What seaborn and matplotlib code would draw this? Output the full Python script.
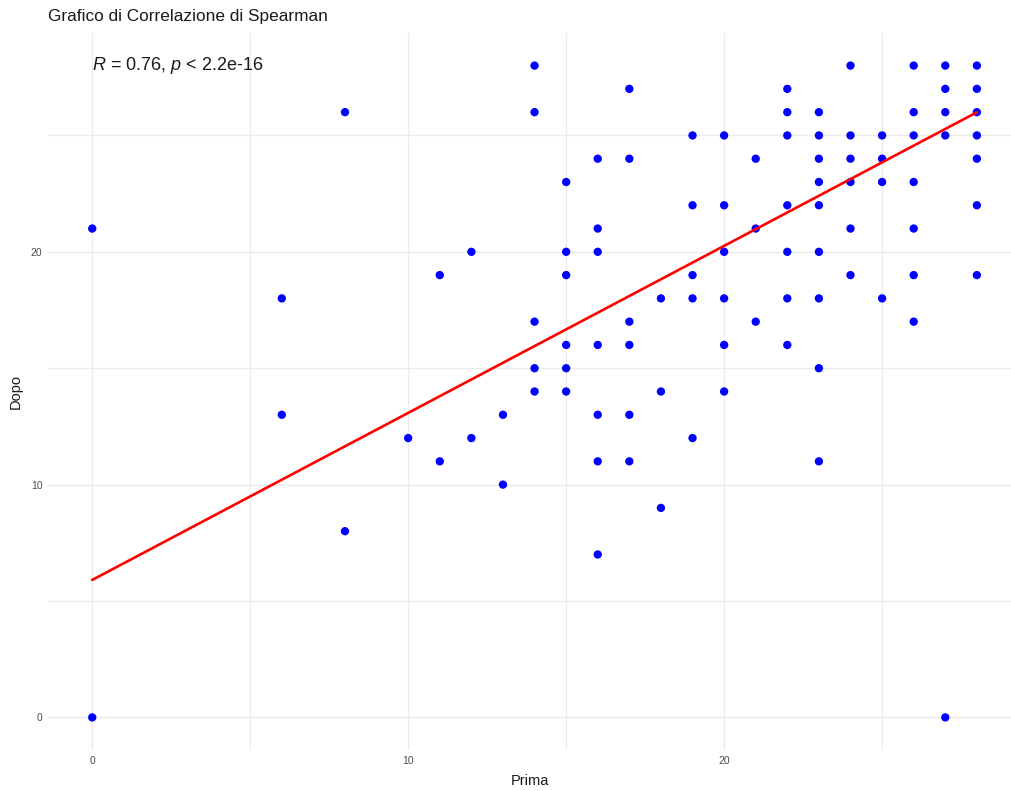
import numpy as np
import pandas as pd
import matplotlib
matplotlib.use("Agg")
import matplotlib.pyplot as plt
from matplotlib.ticker import MultipleLocator
import seaborn as sns

# Distinct (Prima, Dopo) score pairs and how many students share each pair
prima = [0, 0,
         6, 6,
         8, 8,
         10,
         11, 11,
         12, 12,
         13, 13,
         14, 14, 14, 14, 14,
         15, 15, 15, 15, 15, 15,
         16, 16, 16, 16, 16, 16, 16,
         17, 17, 17, 17, 17, 17,
         18, 18, 18,
         19, 19, 19, 19, 19,
         20, 20, 20, 20, 20, 20,
         21, 21, 21,
         22, 22, 22, 22, 22, 22, 22,
         23, 23, 23, 23, 23, 23, 23, 23, 23,
         24, 24, 24, 24, 24, 24,
         25, 25, 25, 25,
         26, 26, 26, 26, 26, 26, 26,
         27, 27, 27, 27, 27,
         28, 28, 28, 28, 28, 28, 28]
dopo = [21, 0,
        18, 13,
        26, 8,
        12,
        19, 11,
        20, 12,
        13, 10,
        28, 26, 17, 15, 14,
        23, 20, 19, 16, 15, 14,
        24, 21, 20, 16, 13, 11, 7,
        27, 24, 17, 16, 13, 11,
        18, 14, 9,
        25, 22, 19, 18, 12,
        25, 22, 20, 18, 16, 14,
        24, 21, 17,
        27, 26, 25, 22, 20, 18, 16,
        26, 25, 24, 23, 22, 20, 18, 15, 11,
        28, 25, 24, 23, 21, 19,
        25, 24, 23, 18,
        28, 26, 25, 23, 21, 19, 17,
        28, 27, 26, 25, 0,
        28, 27, 26, 25, 24, 22, 19]
studenti = [1, 5,
            1, 1,
            1, 1,
            1,
            1, 1,
            1, 1,
            1, 1,
            1, 1, 1, 1, 1,
            1, 1, 1, 1, 1, 1,
            1, 1, 1, 1, 1, 1, 1,
            1, 1, 1, 1, 1, 1,
            1, 1, 1,
            1, 1, 1, 1, 1,
            1, 1, 1, 1, 1, 1,
            1, 1, 1,
            2, 1, 1, 1, 1, 1, 1,
            1, 1, 1, 1, 1, 1, 1, 1, 1,
            3, 1, 1, 1, 1, 1,
            1, 1, 1, 1,
            4, 2, 1, 1, 1, 1, 1,
            5, 4, 1, 1, 1,
            12, 4, 1, 1, 1, 1, 1]

stat_label = r"$\it{R}$ = 0.76, $\it{p}$ < 2.2e-16"

# Distinct pairs (for the dots) and one row per student (for the fit)
punti = pd.DataFrame({"Prima": prima, "Dopo": dopo})
df = pd.DataFrame({
    "Prima": np.repeat(prima, studenti),
    "Dopo": np.repeat(dopo, studenti),
})

sns.set_theme(style="white")
plt.rcParams["font.family"] = ["Liberation Sans", "DejaVu Sans"]
plt.rcParams["mathtext.fontset"] = "custom"
plt.rcParams["mathtext.rm"] = "Liberation Sans"
plt.rcParams["mathtext.it"] = "Liberation Sans:italic"

fig = plt.figure(figsize=(10.11, 7.91), dpi=100)
ax = fig.add_axes([48 / 1011, 1 - 750 / 791, (1011 - 48) / 1011, (750 - 33) / 791])

sns.scatterplot(data=punti, x="Prima", y="Dopo", ax=ax, color="#0000FF",
                s=36, edgecolor="none", zorder=3)
sns.regplot(data=df, x="Prima", y="Dopo", ax=ax, scatter=False, ci=None,
            color="#FF0000", line_kws={"linewidth": 1.9, "zorder": 4})

ax.set_xlim(-1.4, 29.08)
ax.set_ylim(-1.4, 29.4)
ax.xaxis.set_major_locator(MultipleLocator(10))
ax.yaxis.set_major_locator(MultipleLocator(10))
ax.xaxis.set_minor_locator(MultipleLocator(5))
ax.yaxis.set_minor_locator(MultipleLocator(5))
ax.grid(which="major", color="#EBEBEB", linewidth=1.0)
ax.grid(which="minor", color="#EBEBEB", linewidth=0.8)
ax.set_axisbelow(True)
for sp in ax.spines.values():
    sp.set_visible(False)
ax.tick_params(which="both", length=0, labelsize=7.5, labelcolor="#4D4D4D", pad=4)

ax.set_xlabel("Prima", fontsize=10.5, color="#1A1A1A", labelpad=6)
ax.set_ylabel("Dopo", fontsize=10.5, color="#1A1A1A", labelpad=6)

ax.text(0, 28, stat_label, ha="left", va="center", fontsize=13, color="#1A1A1A")
fig.text(48 / 1011, 1 - 17 / 791, "Grafico di Correlazione di Spearman",
         ha="left", va="center", fontsize=12.4, color="#1A1A1A")

fig.savefig("out.png", dpi=100, facecolor="white")
